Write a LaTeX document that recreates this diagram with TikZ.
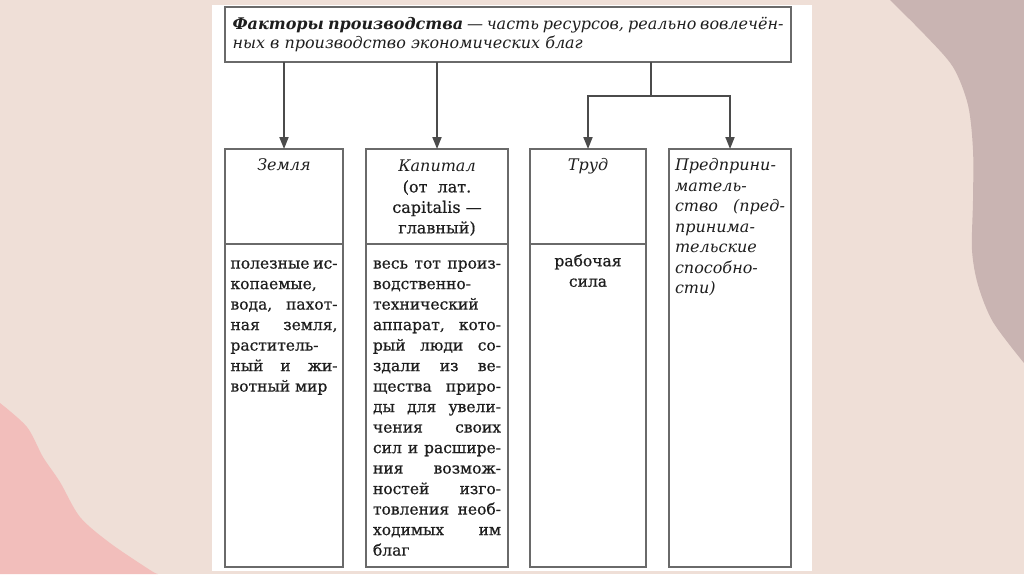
\documentclass[tikz,border=0pt]{standalone}
\usepackage{fontspec}
\setmainfont{DejaVu Serif}
\newfontfamily\textbookfont{DejaVu Serif}[FakeBold=0.6]
\usetikzlibrary{positioning,arrows.meta}

\setlength{\parindent}{0pt}
\tolerance=10000
\hyphenpenalty=10000

\definecolor{bgbeige}{HTML}{EFDFD7}
\definecolor{bgmauve}{HTML}{C9B4B2}
\definecolor{bgpink}{HTML}{F2BEBB}
\definecolor{framegray}{HTML}{6A6A6A}
\definecolor{inkgray}{HTML}{1E1E1E}

\tikzset{
  factorbox/.style={draw=framegray, line width=2pt, inner sep=0pt, outer sep=0pt, anchor=north west},
  headbox/.style={factorbox, minimum height=95pt},
  bodybox/.style={factorbox, minimum height=323pt},
  headlabel/.style={inner sep=0pt, align=center, text=inkgray,
    font=\fontsize{16}{20.5}\selectfont\itshape, execute at begin node=\strut},
  bodylabel/.style={inner sep=0pt, align=justify, text=inkgray,
    font=\fontsize{15.5}{20.5}\selectfont\textbookfont, execute at begin node=\strut},
  link/.style={draw=inkgray!80, line width=1.8pt},
  arrowlink/.style={link, -{Triangle[length=12pt,width=9pt]}}
}

\begin{document}
\begin{tikzpicture}[x=1pt, y=-1pt]
    % Slide background
    \fill[bgbeige] (0,0) rectangle (1024,574);
    \fill[bgmauve] plot[smooth] coordinates {(890,0) (925,35) (953,67) (968,105) (973,150)
      (973,200) (972,250) (978,285) (993,322) (1024,363)} -- (1024,0) -- cycle;
    \fill[bgpink] plot[smooth] coordinates {(0,403) (27,427) (43,457) (60,482) (80,517)
      (110,543) (150,570) (158,574)} -- (0,574) -- cycle;
    \fill[white] (212,5) rectangle (812,571);

    % Definition
    \node[factorbox, text width=551pt, inner xsep=7.5pt, minimum height=55pt, align=justify,
      text=inkgray, font=\fontsize{16}{19.5}\selectfont\itshape] (factors) at (225,7)
      {{\bfseries Факторы производства} — часть ресурсов, реально вовлечён-\linebreak
       ных в производство экономических благ};

    % Columns
    \node[headbox, minimum width=118pt] (zemlya) at (225,149) {};
    \node[bodybox, minimum width=118pt, below=0pt of zemlya.south west, anchor=north west] (zemlyabody) {};
    \node[headbox, minimum width=142pt, right=23pt of zemlya.north east, anchor=north west] (kapital) {};
    \node[bodybox, minimum width=142pt, below=0pt of kapital.south west, anchor=north west] (kapitalbody) {};
    \node[headbox, minimum width=116pt, right=22pt of kapital.north east, anchor=north west] (trud) {};
    \node[bodybox, minimum width=116pt, below=0pt of trud.south west, anchor=north west] (trudbody) {};
    \node[factorbox, minimum width=122pt, minimum height=418pt, right=23pt of trud.north east,
      anchor=north west] (predpr) {};

    % Column texts
    \node[headlabel, below=7pt of zemlya.north] (zemlyalabel) {Земля};
    \node[headlabel, below=11pt of kapital.north] (kapitallabel)
      {Капитал\\ \upshape\textbookfont (от~~лат.\\ \upshape\textbookfont capitalis —\\
       \upshape\textbookfont главный)};
    \node[headlabel, below=7pt of trud.north] (trudlabel) {Труд};
    \node[headlabel, text width=110pt, align=justify, below=7pt of predpr.north] (predprlabel)
      {Предприни-\linebreak матель-\linebreak ство (пред-\linebreak принима-\linebreak
       тельские\linebreak способно-\linebreak сти)};

    \node[bodylabel, text width=107pt, below=10pt of zemlyabody.north] (zemlyatext)
      {полезные ис-\linebreak копаемые,\linebreak вода, пахот-\linebreak ная земля,\linebreak
       раститель-\linebreak ный и жи-\linebreak вотный мир};
    \node[bodylabel, text width=128pt, below=10pt of kapitalbody.north] (kapitaltext)
      {весь тот произ-\linebreak водственно-\linebreak технический\linebreak аппарат, кото-\linebreak
       рый люди со-\linebreak здали из ве-\linebreak щества приро-\linebreak ды для увели-\linebreak
       чения своих\linebreak сил и расшире-\linebreak ния возмож-\linebreak ностей изго-\linebreak
       товления необ-\linebreak ходимых им\linebreak благ};
    \node[bodylabel, align=center, below=10pt of trudbody.north] (trudtext) {рабочая\\ сила};

    % Arrows
    \coordinate (split) at (651,96);
    \draw[arrowlink] (factors.south -| zemlya.north) -- (zemlya.north);
    \draw[arrowlink] (factors.south -| kapital.north) -- (kapital.north);
    \draw[link] (factors.south -| split) -- (split);
    \draw[arrowlink] (split) -| (trud.north);
    \draw[arrowlink] (split) -| (predpr.north);
\end{tikzpicture}
\end{document}
